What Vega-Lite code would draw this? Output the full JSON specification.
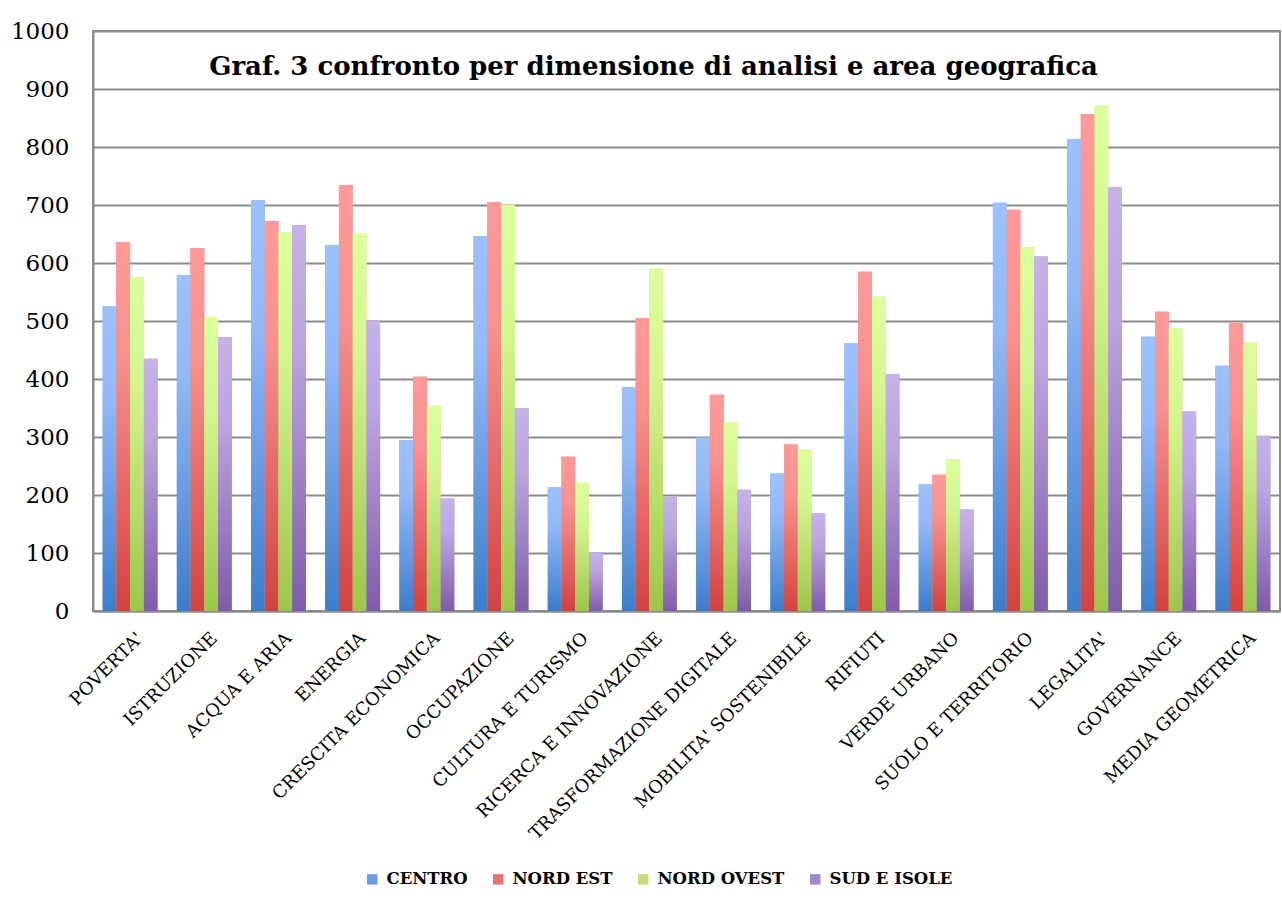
{
  "$schema": "https://vega.github.io/schema/vega-lite/v6.json",
  "width": 1187,
  "height": 580,
  "autosize": {"type": "none"},
  "padding": {"left": 93, "top": 31, "right": 2, "bottom": 298},
  "background": "white",
  "title": {
    "text": "Graf. 3 confronto per dimensione di analisi e area geografica",
    "font": "DejaVu Serif",
    "fontSize": 26,
    "fontWeight": "bold",
    "color": "black",
    "anchor": "middle",
    "baseline": "alphabetic",
    "offset": -44,
    "dy": 37,
    "dx": -33
  },
  "data": {
    "values": [
      {"d": "POVERTA'", "CENTRO": 526, "NORD EST": 636, "NORD OVEST": 575, "SUD E ISOLE": 435},
      {"d": "ISTRUZIONE", "CENTRO": 579, "NORD EST": 626, "NORD OVEST": 507, "SUD E ISOLE": 472},
      {"d": "ACQUA E ARIA", "CENTRO": 708, "NORD EST": 672, "NORD OVEST": 653, "SUD E ISOLE": 665},
      {"d": "ENERGIA", "CENTRO": 631, "NORD EST": 734, "NORD OVEST": 651, "SUD E ISOLE": 501},
      {"d": "CRESCITA ECONOMICA", "CENTRO": 295, "NORD EST": 404, "NORD OVEST": 354, "SUD E ISOLE": 194},
      {"d": "OCCUPAZIONE", "CENTRO": 646, "NORD EST": 705, "NORD OVEST": 700, "SUD E ISOLE": 350},
      {"d": "CULTURA E TURISMO", "CENTRO": 214, "NORD EST": 266, "NORD OVEST": 221, "SUD E ISOLE": 101},
      {"d": "RICERCA E INNOVAZIONE", "CENTRO": 386, "NORD EST": 505, "NORD OVEST": 591, "SUD E ISOLE": 196},
      {"d": "TRASFORMAZIONE DIGITALE", "CENTRO": 299, "NORD EST": 373, "NORD OVEST": 326, "SUD E ISOLE": 209},
      {"d": "MOBILITA' SOSTENIBILE", "CENTRO": 237, "NORD EST": 287, "NORD OVEST": 278, "SUD E ISOLE": 168},
      {"d": "RIFIUTI", "CENTRO": 462, "NORD EST": 585, "NORD OVEST": 542, "SUD E ISOLE": 408},
      {"d": "VERDE URBANO", "CENTRO": 218, "NORD EST": 235, "NORD OVEST": 261, "SUD E ISOLE": 175},
      {"d": "SUOLO E TERRITORIO", "CENTRO": 704, "NORD EST": 692, "NORD OVEST": 627, "SUD E ISOLE": 611},
      {"d": "LEGALITA'", "CENTRO": 814, "NORD EST": 857, "NORD OVEST": 871, "SUD E ISOLE": 731},
      {"d": "GOVERNANCE", "CENTRO": 473, "NORD EST": 516, "NORD OVEST": 487, "SUD E ISOLE": 344},
      {"d": "MEDIA GEOMETRICA", "CENTRO": 423, "NORD EST": 496, "NORD OVEST": 463, "SUD E ISOLE": 302}
    ]
  },
  "transform": [
    {"fold": ["CENTRO", "NORD EST", "NORD OVEST", "SUD E ISOLE"], "as": ["area", "v"]}
  ],
  "encoding": {
    "x": {
      "field": "d",
      "type": "nominal",
      "sort": null,
      "scale": {"paddingInner": 0.26, "paddingOuter": 0.13},
      "axis": {
        "title": null,
        "labelAngle": -45,
        "labelFont": "DejaVu Serif",
        "labelFontSize": 18,
        "labelColor": "black",
        "ticks": false,
        "domainColor": "#8c8c8c",
        "domainWidth": 2,
        "labelPadding": 18,
        "labelOffset": 4,
        "labelLimit": 400
      }
    },
    "xOffset": {
      "field": "area",
      "type": "nominal",
      "scale": {"domain": ["CENTRO", "NORD EST", "NORD OVEST", "SUD E ISOLE"], "paddingInner": 0, "paddingOuter": 0}
    },
    "y": {
      "field": "v",
      "type": "quantitative",
      "scale": {"domain": [0, 1000], "nice": false},
      "axis": {
        "title": null,
        "format": "d",
        "values": [0, 100, 200, 300, 400, 500, 600, 700, 800, 900, 1000],
        "labelFont": "DejaVu Serif",
        "labelFontSize": 23,
        "labelColor": "black",
        "ticks": false,
        "labelPadding": 24,
        "gridColor": "#8c8c8c",
        "gridWidth": 2,
        "domainColor": "#8c8c8c",
        "domainWidth": 2
      }
    }
  },
  "layer": [
    {
      "mark": {"type": "bar"},
      "encoding": {
        "color": {
          "field": "area",
          "type": "nominal",
          "scale": {
            "domain": ["CENTRO", "NORD EST", "NORD OVEST", "SUD E ISOLE"],
            "range": ["#6B9DE6", "#E87371", "#BFE076", "#A388CB"]
          },
          "legend": {
            "orient": "none",
            "direction": "horizontal",
            "legendX": 271,
            "legendY": 840,
            "title": null,
            "symbolType": "square",
            "symbolSize": 110,
            "symbolStrokeWidth": 0,
            "symbolOpacity": 1,
            "labelFont": "DejaVu Serif",
            "labelFontWeight": "bold",
            "labelFontSize": 16.5,
            "labelColor": "black",
            "labelOffset": 6,
            "columnPadding": 22
          }
        }
      }
    },
    {
      "mark": {"type": "bar"},
      "encoding": {
        "color": {
          "condition": [
            {"test": "datum.area === 'CENTRO'", "value": {"gradient": "linear", "x1": 0, "y1": 0, "x2": 0, "y2": 1, "stops": [{"offset": 0, "color": "#9CC1FF"}, {"offset": 0.3, "color": "#93B9F8"}, {"offset": 1, "color": "#3C7DCB"}]}},
            {"test": "datum.area === 'NORD EST'", "value": {"gradient": "linear", "x1": 0, "y1": 0, "x2": 0, "y2": 1, "stops": [{"offset": 0, "color": "#FF9A98"}, {"offset": 0.3, "color": "#F89290"}, {"offset": 1, "color": "#D24240"}]}},
            {"test": "datum.area === 'NORD OVEST'", "value": {"gradient": "linear", "x1": 0, "y1": 0, "x2": 0, "y2": 1, "stops": [{"offset": 0, "color": "#DDFF9C"}, {"offset": 0.3, "color": "#D5F792"}, {"offset": 1, "color": "#9DC64A"}]}}
          ],
          "value": {"gradient": "linear", "x1": 0, "y1": 0, "x2": 0, "y2": 1, "stops": [{"offset": 0, "color": "#C7B1E9"}, {"offset": 0.3, "color": "#BDA6E0"}, {"offset": 1, "color": "#7E5CAA"}]}
        }
      }
    }
  ],
  "config": {
    "view": {"stroke": "#8c8c8c", "strokeWidth": 2}
  }
}
